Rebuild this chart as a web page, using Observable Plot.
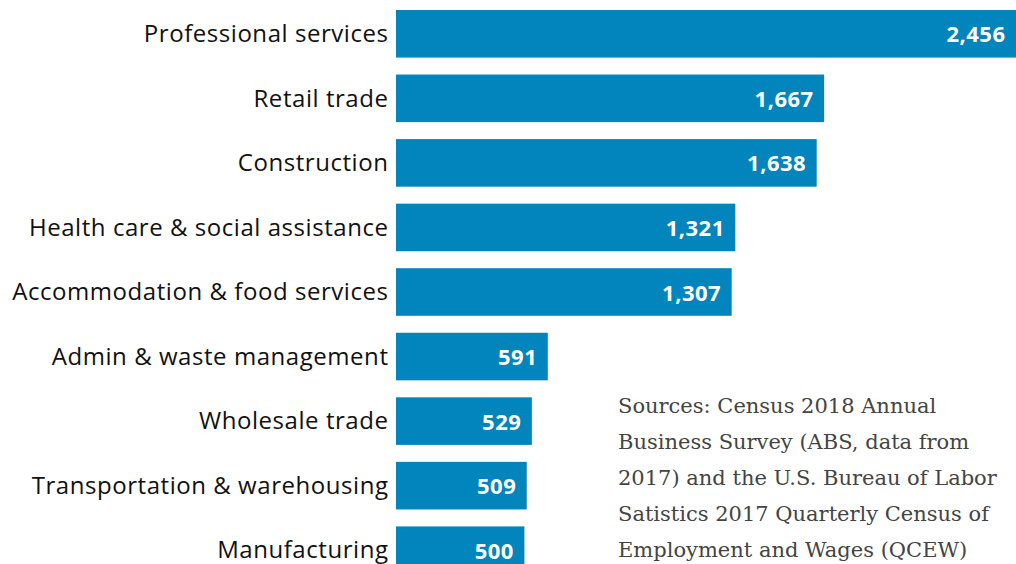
<!DOCTYPE html>
<html>
<head>
<meta charset="utf-8">
<script src="https://cdn.jsdelivr.net/npm/d3@7"></script>
<script src="https://cdn.jsdelivr.net/npm/@observablehq/plot@0.6"></script>
<style>
  html, body { margin: 0; padding: 0; background: #fff; overflow: hidden; }
  #wrap { position: relative; width: 1016px; height: 564px; overflow: hidden; }
  #source {
    position: absolute; left: 618px; top: 388px; width: 398px;
    font-family: "DejaVu Serif", "Liberation Serif", serif;
    font-size: 21px; line-height: 36px; color: #444; white-space: nowrap;
  }
  #chart svg g[aria-label="y-axis tick label"] text { letter-spacing: 0.55px; }
  #chart svg g[aria-label="text"] text { letter-spacing: 0.5px; }
</style>
</head>
<body>
<div id="wrap"><div id="chart"></div><div id="source">Sources: Census 2018 Annual<br>Business Survey (ABS, data from<br>2017) and the U.S. Bureau of Labor<br>Satistics 2017 Quarterly Census of<br>Employment and Wages (QCEW)</div></div>
<script>
const industries = [
  "Professional services",
  "Retail trade",
  "Construction",
  "Health care & social assistance",
  "Accommodation & food services",
  "Admin & waste management",
  "Wholesale trade",
  "Transportation & warehousing",
  "Manufacturing"
];
const values = [2456, 1667, 1638, 1321, 1307, 591, 529, 509, 500];

const data = industries.map((name, i) => ({name, value: values[i]}));
const xMax = 2414;

const chart = Plot.plot({
  width: 1016,
  height: 574,
  marginLeft: 396,
  marginRight: 0,
  marginTop: 10,
  marginBottom: 0,
  style: {fontFamily: "'Open Sans', sans-serif", background: "#fff"},
  x: {domain: [0, xMax], axis: null},
  y: {domain: industries, paddingInner: 0.263, paddingOuter: 0, align: 0, round: false, label: null},
  marks: [
    Plot.barX(data, {x: "value", y: "name", fill: "#0284bd", clip: true}),
    Plot.text(data, {
      x: d => Math.min(d.value, xMax), y: "name", text: d => d3.format(",")(d.value),
      textAnchor: "end", dx: -11, dy: 1, fill: "#fff", fontWeight: "bold", fontSize: 22
    }),
    Plot.axisY({tickSize: 0, tickPadding: 8, fontSize: 24, fill: "#111", label: null})
  ]
});
document.getElementById("chart").appendChild(chart);
</script>
</body>
</html>
